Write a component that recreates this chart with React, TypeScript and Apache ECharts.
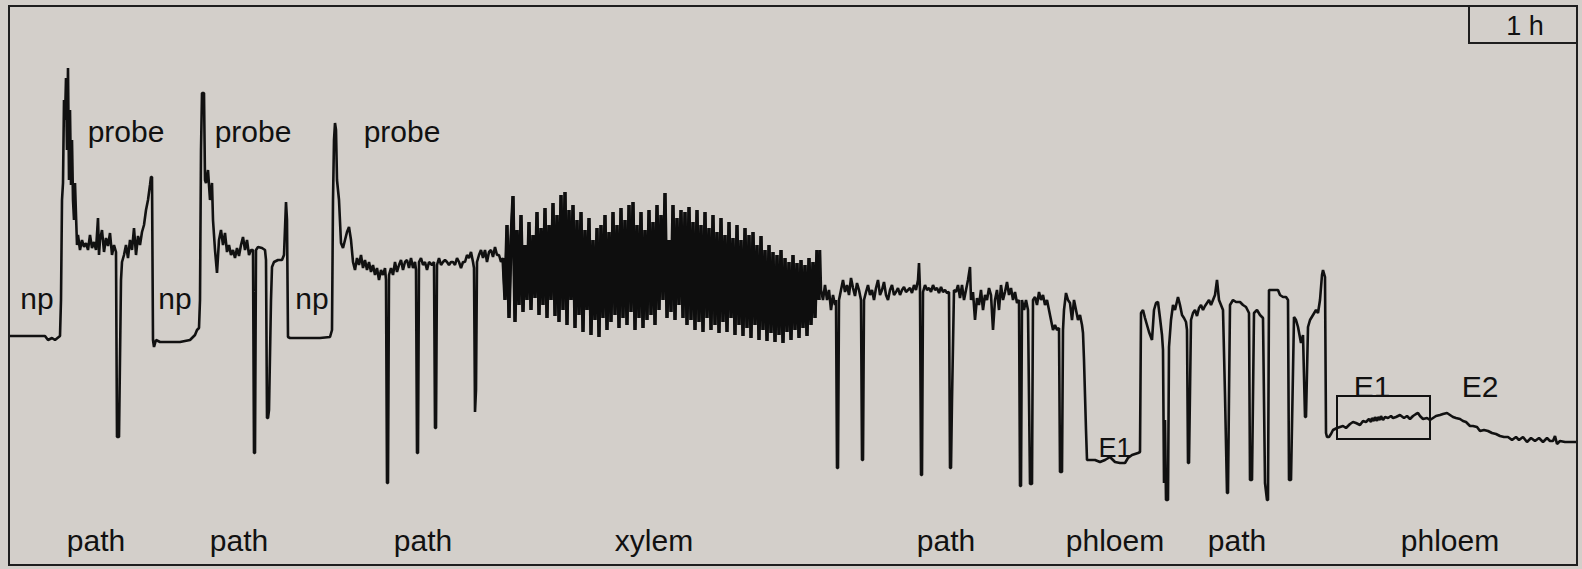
import React, { useEffect, useRef } from "react";
import * as echarts from "echarts";

// EPG trace: [time, level] pairs read from the recording (level axis points down)
const npProbe1: number[][] = [
  [9,336],[30,336],[45,336],[48,340],[52,338],[55,340],[60,336],[61,300],[62,200],[63,183],[64,100],[65,120],[66,78],[67,150],[68,68],[69,180],[70,110],[71,185],[72,140],[73,200],[74,220],[75,183],[76,215],[77,245],[78,235],[80,250],[82,240],[84,247],[86,243],[88,250],[90,235],[92,248],[94,242],[96,250],[98,218],[99,255],[100,240],[102,230],[104,252],[106,238],[108,246],[110,233],[112,255],[114,245],[116,252],[117,437],[119,437],[121,280],[122,262],[124,255],[126,245],[128,258],[130,240],[132,250],[134,228],[136,255],[138,236],[140,245],[142,232],[144,225],[146,210],[148,200],[150,185],[151,177],[152,177],[153,340],[154,347],[156,340],[160,342],[170,342],[180,342],[190,340],[195,335],[197,330],[199,328],[200,300],[201,150],[202,93],[204,93],[205,180],[206,183],[208,170],[210,200],[212,183],[213,220],[215,250],[217,273],[219,240],[221,230],[223,245],[225,233],[227,252],[229,245],[231,255],[233,250],[235,258],[237,248],[239,256],[241,245],[243,237],[245,250],[247,240],[249,255],[251,250],[253,250],[254,453],[255,453],[256,250],[258,247],[262,248],[265,250],[266,260],[267,418],[268,418],[269,410],[271,300],[272,267],[274,262],[278,260],[282,260],[284,255],[286,202],[287,220],[288,337],[290,338],[300,338],[320,338],[330,337],[332,330],[333,200],[334,140],[335,123],[336,130],[337,180],[339,200],[341,243],[343,248],[345,240],[347,232],[349,227],[351,240],[353,262],[355,270],[357,258],[359,265],[361,255],[363,268],[365,260],[367,270],[369,262],[371,272],[373,265],[375,275],[377,268],[379,280],[381,270],[383,275],[385,268],[386,280],[387,483],[388,483],[389,275],[391,268],[393,275],[395,262],[397,272],[399,265],[401,260],[403,270],[405,262],[407,260],[409,268],[411,258],[413,268],[415,262],[416,270],[417,453],[418,453],[419,262],[421,258],[423,265],[425,262],[427,270],[429,262],[432,265],[434,262],[435,428],[436,428],[437,265],[439,258],[441,265],[443,262],[445,260],[447,262],[449,265],[451,262],[453,262],[455,265],[457,258],[459,262],[461,268],[463,262],[465,262],[467,255],[469,258],[471,252],[473,262],[474,268],[475,412],[476,390],[477,262],[479,255],[481,250],[483,258],[485,250],[487,262],[489,252],[491,250],[493,257],[495,247],[497,255],[499,255],[501,262]
];

// xylem phase: levels sampled every 2 time units from t = 503
const xylemStart = 503;
const xylemStep = 2;
const xylemLevels: number[] = [
  258,300,225,318,240,196,322,230,305,215,312,245,300,222,310,235,298,212,315,228,
  305,208,318,225,300,203,316,215,322,195,310,192,325,210,300,205,328,220,315,212,
  332,230,310,218,335,240,320,228,337,225,318,215,330,232,322,212,315,225,328,208,
  318,220,325,205,312,202,330,225,318,212,328,230,320,210,315,222,325,205,310,215,
  300,193,318,240,312,205,320,218,305,210,318,212,325,207,320,222,330,210,322,225,
  332,212,318,228,330,215,325,232,333,218,322,235,332,222,318,238,335,225,325,240,
  336,228,328,235,338,232,325,245,340,236,330,250,341,245,333,252,342,255,335,250,
  343,258,332,262,340,255,330,263,338,260,328,265,336,258,325,262,318,250,300
];

const path4: number[][] = [
  [820,250],[821,290],[823,300],[825,285],[827,300],[829,290],[831,310],[833,295],[835,305],[836,300],[837,468],[838,468],[839,300],[841,290],[843,280],[845,292],[847,285],[849,295],[851,278],[853,288],[855,296],[857,283],[859,290],[861,300],[862,460],[863,460],[864,300],[866,292],[868,285],[870,295],[872,290],[874,300],[876,288],[878,280],[880,295],[882,290],[884,282],[886,295],[888,300],[890,290],[892,285],[894,295],[896,292],[898,288],[900,295],[902,290],[904,287],[906,292],[908,290],[910,288],[912,293],[914,285],[916,290],[918,280],[919,263],[920,290],[921,475],[922,475],[923,292],[925,285],[927,290],[929,288],[931,292],[933,285],[935,290],[937,288],[939,293],[941,287],[943,292],[945,290],[947,293],[949,292],[950,468],[951,468],[952,400],[954,290],[956,292],[958,285],[960,298],[962,285],[964,300],[966,290],[968,280],[970,267],[971,300],[973,292],[975,320],[977,298],[979,305],[981,290],[983,310],[985,295],[987,300],[989,288],[991,295],[993,330],[995,300],[997,290],[999,310],[1001,285],[1003,300],[1005,292],[1007,282],[1009,295],[1011,288],[1013,300],[1015,292],[1017,303],[1019,300],[1020,486],[1021,486],[1022,300],[1024,310],[1026,300],[1028,310],[1030,484],[1032,484],[1033,300],[1035,297],[1037,305],[1039,292],[1041,300],[1043,295],[1045,305],[1047,300],[1049,310],[1051,320],[1053,330],[1055,325],[1057,330],[1059,328],[1060,472],[1062,472],[1063,330],[1064,310],[1066,293],[1068,300],[1070,303],[1072,320],[1074,300],[1076,310],[1078,320],[1080,315],[1082,325],[1083,333],[1084,360],[1086,430],[1087,460]
];

const phloemE1: number[][] = [
  [1095,460],[1100,462],[1105,460],[1110,457],[1115,462],[1120,463],[1125,463],[1128,458],[1132,455],[1138,453],[1140,452]
];

const path5: number[][] = [
  [1141,313],[1143,310],[1145,318],[1147,325],[1149,332],[1152,340],[1154,310],[1156,303],[1158,302],[1160,318],[1162,335],[1163,350],[1164,483],[1165,420],[1166,500],[1168,500],[1169,347],[1171,320],[1173,305],[1175,310],[1178,297],[1180,305],[1182,315],[1184,318],[1186,322],[1187,330],[1188,463],[1189,463],[1191,320],[1193,313],[1195,310],[1197,316],[1199,308],[1201,305],[1203,310],[1205,306],[1207,303],[1209,300],[1211,305],[1213,300],[1215,295],[1217,280],[1219,300],[1221,305],[1223,310],[1225,395],[1227,493],[1228,493],[1229,395],[1230,305],[1233,300],[1236,302],[1240,302],[1243,305],[1246,307],[1249,313],[1250,480],[1252,480],[1254,313],[1257,310],[1260,315],[1263,318],[1265,483],[1267,500],[1268,500],[1269,290],[1273,290],[1276,290],[1278,290],[1280,295],[1283,297],[1286,297],[1288,300],[1289,480],[1291,480],[1294,317],[1296,320],[1298,327],[1301,343],[1303,335],[1305,417],[1306,417],[1308,327],[1310,320],[1313,315],[1316,310],[1318,313],[1320,300],[1322,275],[1323,270],[1325,277],[1326,433]
];

const phloemE2: number[][] = [
  [1327,437],[1329,437],[1331,434],[1333,430],[1337,428],[1340,427],[1343,426],[1346,428],[1350,424],[1353,422],[1356,423],[1360,425],[1363,421],[1366,422],[1369,419],[1371,422],[1372,418],[1374,421],[1375,417],[1377,421],[1378,417],[1380,420],[1381,416],[1383,420],[1385,417],[1388,418],[1391,416],[1393,418],[1396,417],[1400,415],[1404,418],[1407,416],[1410,419],[1413,416],[1416,414],[1418,413],[1420,416],[1423,419],[1427,418],[1430,420],[1433,418],[1436,416],[1440,415],[1443,414],[1447,413],[1450,415],[1453,417],[1456,418],[1460,419],[1463,421],[1466,422],[1470,426],[1473,426],[1477,427],[1480,431],[1484,430],[1488,431],[1492,433],[1496,434],[1500,436],[1504,437],[1508,437],[1512,440],[1516,437],[1519,440],[1523,437],[1527,442],[1531,438],[1535,441],[1539,438],[1543,442],[1547,438],[1550,441],[1553,441],[1555,436],[1557,444],[1560,441],[1565,442],[1570,442],[1577,442]
];

// annotation labels: text, time, level
const labelTexts = ["np","probe","np","probe","np","probe","path","path","path","xylem","path","phloem","path","phloem","E1","E1","E2"];
const labelTimes = [37,126,175,253,312,402,96,239,423,654,946,1115,1237,1450,1115,1372,1480];
const labelLevels = [298,131,298,131,298,131,540,540,540,540,540,540,540,540,448,386,386];
const labelSizes = [30,30,30,30,30,30,30,30,30,30,30,30,30,30,27,30,30];

// scale bar
const scaleText = "1 h";

export default function App() {
  const ref = useRef<HTMLDivElement>(null);
  useEffect(() => {
    if (!ref.current) return;
    const chart = echarts.init(ref.current, null, { renderer: "svg" });
    const xylem = xylemLevels.map((v, i) => [xylemStart + i * xylemStep, v]);
    const trace = [...npProbe1, ...xylem, ...path4, ...phloemE1, ...path5, ...phloemE2];
    const labels = labelTexts.map((t, i) => ({
      name: t,
      value: [labelTimes[i], labelLevels[i]],
      label: { fontSize: labelSizes[i] },
    }));
    chart.setOption({
      animation: false,
      backgroundColor: "#d3cfca",
      grid: { left: 0, right: 0, top: 0, bottom: 0 },
      xAxis: { type: "value", min: 0, max: 1582, show: false },
      yAxis: { type: "value", min: 0, max: 569, inverse: true, show: false },
      graphic: [
        {
          type: "rect",
          shape: { x: 9, y: 6, width: 1568, height: 559 },
          style: { fill: "none", stroke: "#1e1e1e", lineWidth: 2 },
          z: 10,
        },
        {
          type: "rect",
          shape: { x: 1469, y: 6, width: 108, height: 37 },
          style: { fill: "none", stroke: "#1e1e1e", lineWidth: 2 },
          z: 10,
        },
        {
          type: "text",
          x: 1525,
          y: 26,
          style: {
            text: scaleText,
            fontSize: 27,
            fontFamily: "Liberation Sans",
            fill: "#111111",
            align: "center",
            verticalAlign: "middle",
          },
          z: 10,
        },
      ],
      series: [
        {
          type: "line",
          data: trace,
          showSymbol: false,
          symbol: "none",
          lineStyle: { color: "#111111", width: 2.6 },
          markArea: {
            silent: true,
            itemStyle: { color: "rgba(0,0,0,0)", borderColor: "#111111", borderWidth: 2 },
            data: [[{ xAxis: 1337, yAxis: 396 }, { xAxis: 1430, yAxis: 439 }]],
          },
          z: 3,
        },
        {
          type: "line",
          data: xylem,
          showSymbol: false,
          symbol: "none",
          lineStyle: { color: "#0e0e0e", width: 3.4 },
          z: 4,
        },
        {
          type: "scatter",
          data: labels,
          symbolSize: 0,
          itemStyle: { color: "#111111", opacity: 1 },
          label: {
            show: true,
            position: "inside",
            formatter: "{b}",
            fontFamily: "Liberation Sans",
            color: "#111111",
            opacity: 1,
            textBorderWidth: 0,
            align: "center",
            verticalAlign: "middle",
          },
          z: 5,
        },
      ],
    });
    return () => chart.dispose();
  }, []);
  return (
    <div
      ref={ref}
      style={{ position: "absolute", left: 0, top: 0, width: 1582, height: 569 }}
    />
  );
}
